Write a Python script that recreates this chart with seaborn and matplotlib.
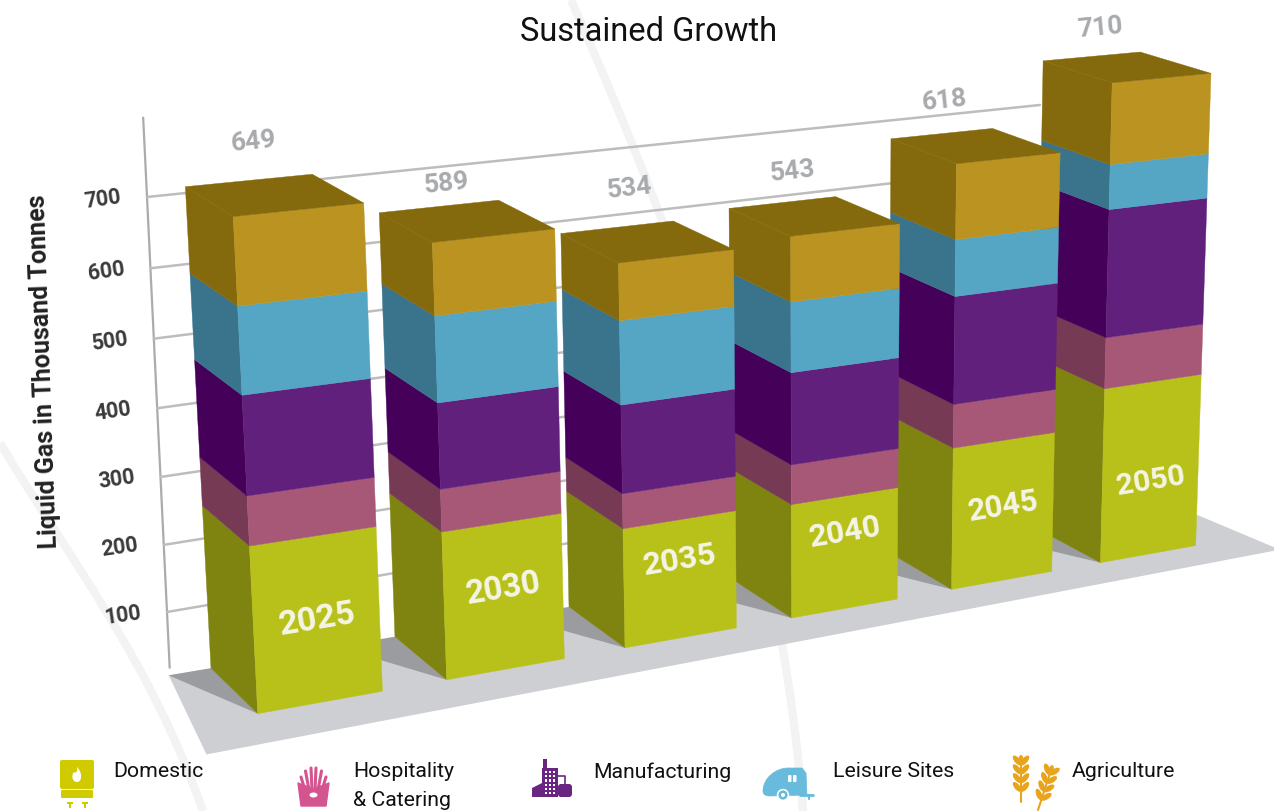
import numpy as np
import matplotlib
matplotlib.use('Agg')
import matplotlib.pyplot as plt
from matplotlib.patches import Polygon, PathPatch, FancyBboxPatch, Ellipse, Circle, Rectangle
from matplotlib.path import Path
import seaborn as sns

# ---- data -------------------------------------------------------------
years = ['2025', '2030', '2035', '2040', '2045', '2050']
totals = [649, 589, 534, 543, 618, 710]
domestic = [225, 204, 169, 165, 210, 264]
hospitality = [66, 58, 49, 57, 64, 76]
manufacturing = [131, 116, 123, 131, 156, 188]
leisure = [114, 115, 115, 99, 81, 65]
agriculture = [113, 96, 78, 91, 107, 117]
sector_names = ['Domestic', 'Hospitality\n& Catering', 'Manufacturing', 'Leisure Sites', 'Agriculture']
axis_ticks = [100, 200, 300, 400, 500, 600, 700]

# ---- styling ----------------------------------------------------------
sns.set_theme(style='white')
plt.rcParams['font.family'] = ['Roboto', 'DejaVu Sans']
front_cols = sns.color_palette(['#B8C11A', '#A85877', '#62207D', '#55A5C5', '#BA9321'])
side_cols = sns.color_palette(['#7F8410', '#773A55', '#45005A', '#39738C', '#846A0C'])
top_col = '#846A0C'

# ---- camera for the pseudo-3D scene: x in bar widths, y in hundreds, z is depth
CAMERA = np.array([[132.04, -5.2786, -39.312, 257.72],
                   [-9.0506, -77.984, -22.039, 713.62],
                   [0.019219, -0.0064408, 0.035101, 1.0]])
# left edge of each bar along the row
slots = [0.0, 1.53, 3.06, 4.57, 6.10, 7.60]


def project(x, value, z):
    h = CAMERA @ np.array([x, value / 100.0, z, 1.0])
    return h[0] / h[2], h[1] / h[2]


# back wall: x runs 0..1 along the wall, v is the scale value in hundreds
def solve_wall(corners):
    a, b = [], []
    for (x, v), (px, py) in corners:
        a.append([x, v, 1, 0, 0, 0, -px * x, -px * v]); b.append(px)
        a.append([0, 0, 0, x, v, 1, -py * x, -py * v]); b.append(py)
    s = np.linalg.solve(np.array(a, float), np.array(b, float))
    return np.append(s, 1.0).reshape(3, 3)


WALL = solve_wall([((0, 1), (167, 612)), ((0, 7), (147, 197)),
                   ((1, 7), (1040, 105)), ((1, 1), (1030, 464))])


def wall_point(x, value):
    h = WALL @ np.array([x, value / 100.0, 1.0])
    return h[0] / h[2], h[1] / h[2]


def edge_angle(a, b):
    return -np.degrees(np.arctan2(b[1] - a[1], b[0] - a[0]))


fig = plt.figure(figsize=(12.74, 8.11), dpi=100, facecolor='white')
ax = fig.add_axes([0, 0, 1, 1])
ax.set_xlim(0, 1274)
ax.set_ylim(811, 0)
ax.axis('off')

# faint background arcs
for verts in ([(0, 443), (70, 560), (150, 660), (203, 811)],
              [(571, 0), (690, 270), (780, 520), (803, 811)]):
    ax.add_patch(PathPatch(Path(verts, [Path.MOVETO, Path.CURVE4, Path.CURVE4, Path.CURVE4]),
                           fc='none', ec='#F3F3F3', lw=6, zorder=0))

# floor and bar shadows
floor = [project(-0.6, 0, -0.55), project(9.2, 0, -0.4), project(9.1, 0, 0.7), project(-0.34, 0, 1)]
ax.add_patch(Polygon(floor, fc='#CDCFD3', ec='none', zorder=1))
for i in range(len(years)):
    x0 = slots[i]
    reach = 0.34 if i == 0 else 0.5
    ax.add_patch(Polygon([project(x0, 0, 1), project(x0, 0, 0), project(x0 - reach, 0, 1)],
                         fc='#9A9CA0', ec='none', zorder=1.5))

# value axis and gridlines on the wall
top = wall_point(0, 810)
bottom = wall_point(0, 16)
sns.lineplot(x=[top[0], bottom[0]], y=[top[1], bottom[1]], ax=ax, color='#ABABAB', lw=1.6,
             sort=False, estimator=None, zorder=2)
for v in axis_ticks:
    a, b = wall_point(0, v), wall_point(1, v)
    sns.lineplot(x=[a[0], b[0]], y=[a[1], b[1]], ax=ax, color='#BDBDBD', lw=1.8,
                 sort=False, estimator=None, zorder=2)
    ax.text(a[0] - 44, a[1] + 3, str(v), fontsize=15.5, fontweight='bold', color='#3A3A3A',
            rotation=8, rotation_mode='anchor', ha='center', va='center', zorder=3)

# stacked bars, painted from the far bar to the near one
stacks = np.array([domestic, hospitality, manufacturing, leisure, agriculture], float)
level = np.cumsum(np.vstack([np.zeros(len(years)), stacks]), axis=0)
label_shift_x = [4, 7, 12, 10, 2, 8]
label_lift = [39, 23, 39, 31, 33, 28]
z_bar = 4
for i in reversed(range(len(years))):
    x0, x1 = slots[i], slots[i] + 1
    for s in range(stacks.shape[0]):
        lo, hi = level[s, i], level[s + 1, i]
        ax.add_patch(Polygon([project(x0, lo, 1), project(x0, lo, 0), project(x0, hi, 0), project(x0, hi, 1)],
                             fc=side_cols[s], ec=side_cols[s], lw=0.3, zorder=z_bar))
        ax.add_patch(Polygon([project(x0, lo, 0), project(x1, lo, 0), project(x1, hi, 0), project(x0, hi, 0)],
                             fc=front_cols[s], ec=front_cols[s], lw=0.3, zorder=z_bar))
    t = level[-1, i]
    ax.add_patch(Polygon([project(x0, t, 0), project(x1, t, 0), project(x1, t, 1), project(x0, t, 1)],
                         fc=top_col, ec=top_col, lw=0.3, zorder=z_bar))
    z_bar += 1

    # year on the front face
    fa, fb = project(x0, 112, 0), project(x1, 112, 0)
    cx, cy = project(x0 + 0.5, 112, 0)
    ax.text(cx, cy, years[i], fontsize=24.5 * ((fb[0] - fa[0]) / 128) ** 0.4, fontweight='bold', color='#F4F5E6',
            rotation=edge_angle(fa, fb), rotation_mode='anchor', ha='center', va='center', zorder=20)

    # total above the bar
    ba, bb = project(x0, t, 1), project(x1, t, 1)
    lx, ly = project(x0 + 0.5, t, 1)
    ax.text(lx + label_shift_x[i], ly - label_lift[i], str(totals[i]), fontsize=19, fontweight='bold',
            color='#A8AAAE', rotation=edge_angle(ba, bb), rotation_mode='anchor',
            ha='center', va='center', zorder=20)

ax.text(649, 32, 'Sustained Growth', fontsize=23.5, color='#111111', ha='center', va='center', zorder=20)
ax.text(44, 371, 'Liquid Gas in Thousand Tonnes', fontsize=18, fontweight='bold', color='#222222',
        rotation=92, rotation_mode='anchor', ha='center', va='center', zorder=20)

# ---- sector key --------------------------------------------------------
key_x = [113, 353, 593, 833, 1072]
for name, kx in zip(sector_names, key_x):
    ax.text(kx, 762, name, fontsize=15.3, color='#111111', ha='left', va='top', linespacing=1.7, zorder=20)

# gas boiler
tank = '#D0CB00'
ax.add_patch(FancyBboxPatch((62, 762), 30, 25, boxstyle='round,pad=2', fc=tank, ec='none', zorder=20))
ax.add_patch(FancyBboxPatch((62, 791), 30, 6, boxstyle='round,pad=1', fc=tank, ec='none', zorder=20))
for fx in (67, 82):
    ax.add_patch(Rectangle((fx, 802), 6, 2, fc=tank, ec='none', zorder=20))
    ax.add_patch(Rectangle((fx + 2, 802), 2, 6, fc=tank, ec='none', zorder=20))
flame = Path([(77, 767), (83, 773), (82, 782), (77, 782), (72, 782), (71, 775), (74, 772), (75, 774), (77, 771), (77, 767)],
             [Path.MOVETO, Path.CURVE4, Path.CURVE4, Path.CURVE4, Path.CURVE4, Path.CURVE4, Path.CURVE4,
              Path.CURVE3, Path.CURVE3, Path.LINETO])
ax.add_patch(PathPatch(flame, fc='white', ec='none', zorder=21))

# fries carton
pink = '#D4548F'
for bx, tx, ty in zip((305, 309, 312, 315, 318, 322), (301, 305.5, 311, 316, 321.5, 326), (777, 771, 768, 768, 771, 777)):
    ax.plot([bx, tx], [790, ty], color=pink, lw=2.2, solid_capstyle='round', zorder=20)
ax.add_patch(Polygon([(298, 783), (313.5, 789), (329, 783), (326, 806), (301, 806)],
                     fc=pink, ec=pink, lw=1, joinstyle='round', zorder=21))
ax.add_patch(Ellipse((313.5, 795), 8, 5, fc='white', ec='none', zorder=22))

# factory
plum = '#6A2482'
ax.add_patch(Rectangle((543, 759), 4, 10, fc=plum, ec='none', zorder=20))
ax.add_patch(Rectangle((542, 768), 16, 29, fc=plum, ec='none', zorder=20))
ax.add_patch(Polygon([(532, 797), (532, 788), (542, 783), (542, 797)], fc=plum, ec='none', zorder=20))
ax.add_patch(FancyBboxPatch((558, 784), 14, 13, boxstyle='round,pad=0,rounding_size=3', fc=plum, ec='none', zorder=20))
ax.plot([558, 565, 565], [776, 776, 784], color=plum, lw=1.2, zorder=20)
for wy in np.arange(771, 795, 4.2):
    for wx in (544.5, 548.5, 552.5):
        ax.add_patch(Rectangle((wx, wy), 2.6, 2.2, fc='white', ec='none', zorder=21))

# caravan
sky = '#68BBDC'
body = Path([(763, 791), (763, 778), (776, 768), (788, 768), (802, 768), (802, 768), (806, 773),
             (807, 795), (770, 796), (763, 796), (763, 791)],
            [Path.MOVETO, Path.CURVE4, Path.CURVE4, Path.CURVE4, Path.LINETO, Path.LINETO, Path.LINETO,
             Path.LINETO, Path.LINETO, Path.CURVE3, Path.CURVE3])
ax.add_patch(PathPatch(body, fc=sky, ec=sky, lw=0.5, zorder=20))
ax.plot([800, 813], [795, 795], color=sky, lw=2, zorder=20)
ax.plot([809, 809], [795, 799], color=sky, lw=1.5, zorder=20)
ax.add_patch(Circle((783, 795), 6.2, fc='white', ec='none', zorder=21))
ax.add_patch(Circle((783, 795), 4.6, fc=sky, ec='none', zorder=22))
ax.add_patch(Circle((783, 795), 2.0, fc='white', ec='none', zorder=23))
ax.add_patch(FancyBboxPatch((788, 775), 3.5, 7, boxstyle='round,pad=0,rounding_size=1', fc='white', ec='none', zorder=21))
ax.add_patch(FancyBboxPatch((793, 775), 3.5, 7, boxstyle='round,pad=0,rounding_size=1', fc='white', ec='none', zorder=21))

# wheat stalks
gold = '#E8A41C'


def wheat(base, tip, n):
    base, tip = np.array(base, float), np.array(tip, float)
    ax.plot([base[0], tip[0]], [base[1], tip[1]], color=gold, lw=1.5, zorder=20)
    ang = np.degrees(np.arctan2(tip[1] - base[1], tip[0] - base[0]))
    for t in np.linspace(0.25, 0.88, n):
        p = base + (tip - base) * t
        for sign in (-1, 1):
            off = np.radians(ang + sign * 40)
            c = p + 6 * np.array([np.cos(off), np.sin(off)])
            ax.add_patch(Ellipse(c, 12, 5.5, angle=ang + sign * 40, fc=gold, ec='none', zorder=20))
    ax.add_patch(Ellipse(tip, 10, 5, angle=ang, fc=gold, ec='none', zorder=20))


wheat((1021, 802), (1021, 760), 4)
wheat((1038, 810), (1051, 770), 4)

fig.savefig('out.png', dpi=100)
